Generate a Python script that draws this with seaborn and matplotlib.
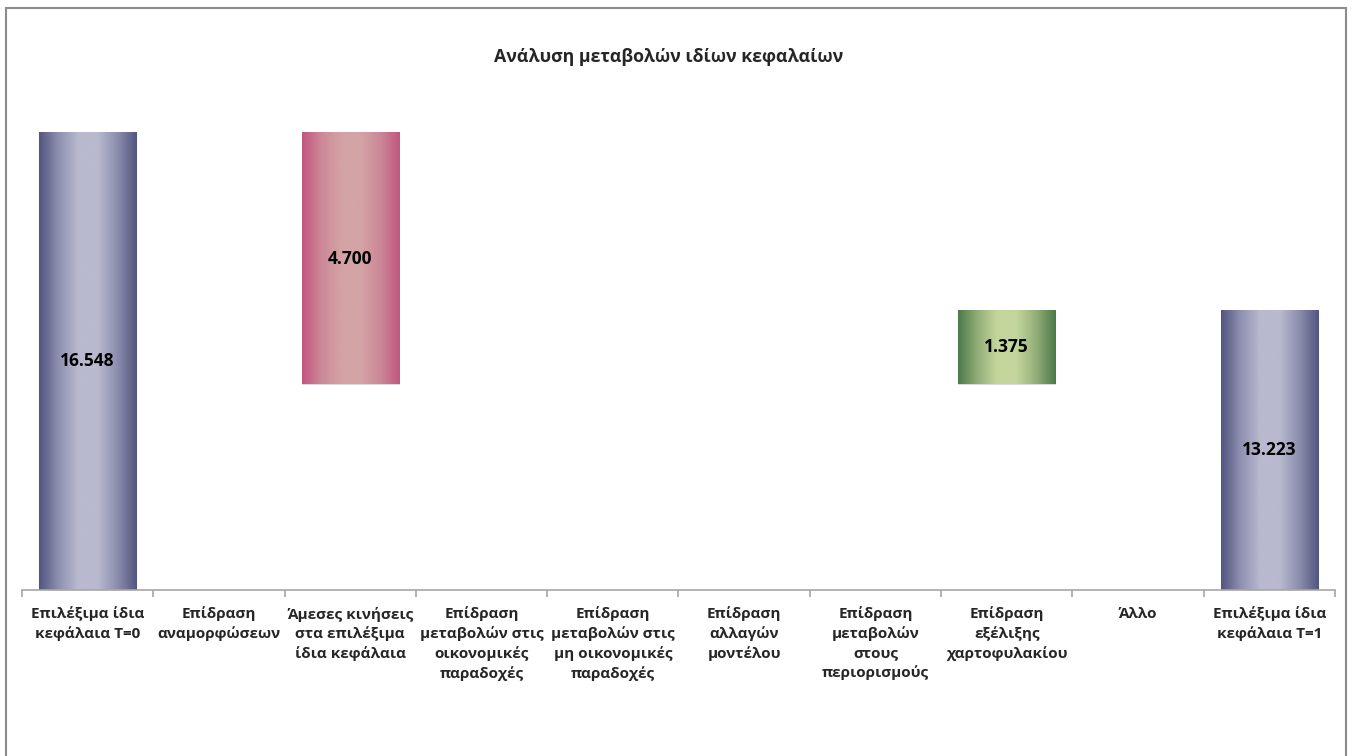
import numpy as np
import pandas as pd
import matplotlib
matplotlib.use("Agg")
import matplotlib.pyplot as plt
from matplotlib.colors import LinearSegmentedColormap
from matplotlib.patches import Rectangle
import seaborn as sns

# Data (waterfall of own funds, values shown with dot as thousands separator)
categories = [
    "Επιλέξιμα ίδια\nκεφάλαια T=0",
    "Επίδραση\nαναμορφώσεων",
    "Άμεσες κινήσεις\nστα επιλέξιμα\nίδια κεφάλαια",
    "Επίδραση\nμεταβολών στις\nοικονομικές\nπαραδοχές",
    "Επίδραση\nμεταβολών στις\nμη οικονομικές\nπαραδοχές",
    "Επίδραση\nαλλαγών\nμοντέλου",
    "Επίδραση\nμεταβολών\nστους\nπεριορισμούς",
    "Επίδραση\nεξέλιξης\nχαρτοφυλακίου",
    "Άλλο",
    "Επιλέξιμα ίδια\nκεφάλαια T=1",
]
changes = [16548, 0, -4700, 0, 0, 0, 0, 1375, 0, 13223]
kinds = ["total", "step", "step", "step", "step", "step", "step", "step", "step", "total"]

# running waterfall base / top
bottoms, tops = [], []
level = 0
for v, k in zip(changes, kinds):
    if k == "total":
        bottoms.append(0)
        tops.append(v)
        level = v
    else:
        new = level + v
        bottoms.append(min(level, new))
        tops.append(max(level, new))
        level = new

df = pd.DataFrame({"cat": categories, "top": tops, "bottom": bottoms,
                   "change": changes, "kind": kinds})

sns.set_style("white")
plt.rcParams["font.family"] = ["Open Sans", "DejaVu Sans"]

fig = plt.figure(figsize=(13.54, 7.56), dpi=100)
ax = fig.add_axes([0.01625, 0.2196, 0.9697, 0.7074])

sns.barplot(data=df, x="cat", y="top", order=categories, color="white",
            width=0.74, ax=ax, saturation=1)

ymin, ymax = 8000, 18000
ax.set_ylim(ymin, ymax)

grads = {
    "total": ["#52557f", "#8e90b0", "#b9b9cf", "#b9b9cf", "#8c8eae", "#52557f"],
    "neg": ["#c0567f", "#cc8898", "#d4a3a5", "#d4a3a5", "#cc8898", "#c0567f"],
    "pos": ["#4b7a49", "#93ae78", "#c3d69b", "#c3d69b", "#93ae78", "#4b7a49"],
}

grad_row = np.linspace(0, 1, 256).reshape(1, -1)
for patch, b, t, v, k in zip(ax.patches, bottoms, tops, changes, kinds):
    if v == 0:
        patch.set_visible(False)
        continue
    patch.set_y(b)
    patch.set_height(t - b)
    patch.set_edgecolor("#d9d9e3")
    patch.set_linewidth(0.8)
    key = "total" if k == "total" else ("neg" if v < 0 else "pos")
    cmap = LinearSegmentedColormap.from_list(key, grads[key])
    x0 = patch.get_x()
    x1 = x0 + patch.get_width()
    vis_lo = max(b, ymin)
    ax.imshow(grad_row, cmap=cmap, extent=(x0, x1, vis_lo, t), aspect="auto",
              zorder=patch.get_zorder() + 0.1, interpolation="bicubic")
    label = f"{abs(v):,.0f}".replace(",", ".")
    ax.text(x0 + patch.get_width() / 2, (vis_lo + t) / 2, label,
            ha="center", va="center", fontsize=12.5, fontweight="bold",
            color="black", zorder=5)

ax.set_xlim(-0.5, len(categories) - 0.5)
ax.set_ylim(ymin, ymax)
ax.set_ylabel("")
ax.set_xlabel("")
ax.set_yticks([])
for s in ["top", "left", "right"]:
    ax.spines[s].set_visible(False)
ax.spines["bottom"].set_color("#a6a6a6")
ax.spines["bottom"].set_linewidth(1.2)

ax.set_xticks(np.arange(len(categories)))
ax.set_xticklabels(categories, fontsize=11, fontweight="bold",
                   linespacing=1.42, va="top")
ax.set_xticks(np.arange(-0.5, len(categories)), minor=True)
ax.tick_params(axis="x", which="major", bottom=True, length=0, pad=12)
ax.tick_params(axis="x", which="minor", bottom=True, length=5,
               color="#a6a6a6", width=1.2, direction="out")

fig.text(0.494, 0.925, "Ανάλυση μεταβολών ιδίων κεφαλαίων", ha="center",
         va="center", fontsize=12.8, fontweight="bold")

# outer chart frame
fig.patches.append(Rectangle((6 / 1354, -0.01), 1340 / 1354, 0.999,
                             transform=fig.transFigure, fill=False,
                             edgecolor="#8c8c8c", linewidth=1.5))

fig.savefig("out.png", dpi=100)
